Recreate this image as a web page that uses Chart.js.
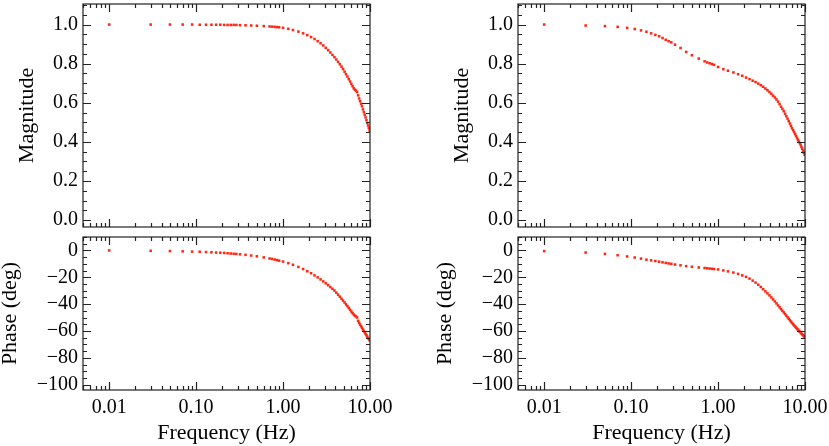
<!DOCTYPE html>
<html>
<head>
<meta charset="utf-8">
<script src="https://cdn.jsdelivr.net/npm/chart.js@4.4.1/dist/chart.umd.min.js"></script>
<style>
  html, body { margin: 0; padding: 0; background: #fff; }
  #wrap { position: relative; width: 829px; height: 446px; overflow: hidden; }
  canvas { position: absolute; }
</style>
</head>
<body>
<div id="wrap">
  <canvas id="magLeftChart" width="414" height="232" style="left:0;top:0"></canvas>
  <canvas id="phaseLeftChart" width="414" height="214" style="left:0;top:232px"></canvas>
  <canvas id="magRightChart" width="415" height="232" style="left:414px;top:0"></canvas>
  <canvas id="phaseRightChart" width="415" height="214" style="left:414px;top:232px"></canvas>
</div>
<script>
// Frequencies shared by all four panels (Hz)
const freq = [0.01, 0.03, 0.05, 0.07, 0.09, 0.11, 0.13, 0.15, 0.17, 0.19, 0.21, 0.23, 0.25, 0.27, 0.29,
  0.32, 0.37, 0.43, 0.5, 0.6, 0.7, 0.75, 0.8, 0.85, 0.9, 1.0, 1.15, 1.3, 1.5, 1.7, 1.9,
  2.1, 2.3, 2.5, 2.7, 2.9, 3.1, 3.3, 3.5, 3.7, 3.9, 4.1, 4.3, 4.5, 4.7, 4.9,
  5.1, 5.3, 5.5, 5.7, 5.9, 6.1, 6.3, 6.5, 6.7, 6.9, 7.1, 7.3, 7.5, 7.7, 7.9,
  8.1, 8.3, 8.5, 8.7, 8.9, 9.1, 9.3, 9.5, 9.7, 9.9];

// Left column
const magLeft = [1.0, 1.0, 1.0, 1.0, 1.0, 0.999, 0.999, 0.999, 0.999, 0.999, 0.998, 0.998, 0.998, 0.998, 0.998,
  0.997, 0.996, 0.995, 0.994, 0.992, 0.990, 0.989, 0.988, 0.987, 0.986, 0.983, 0.978, 0.972, 0.964, 0.955, 0.946,
  0.936, 0.926, 0.915, 0.904, 0.893, 0.881, 0.869, 0.857, 0.845, 0.833, 0.821, 0.809, 0.797, 0.785, 0.772,
  0.759, 0.746, 0.734, 0.721, 0.709, 0.697, 0.685, 0.674, 0.667, 0.662, 0.655, 0.638, 0.622, 0.608, 0.595,
  0.582, 0.566, 0.552, 0.539, 0.525, 0.511, 0.497, 0.484, 0.471, 0.458];
const phaseLeft = [0, -0.3, -0.5, -0.7, -0.9, -1.0, -1.2, -1.4, -1.6, -1.7, -1.9, -2.1, -2.3, -2.5, -2.6,
  -2.9, -3.3, -3.8, -4.4, -5.2, -6.0, -6.4, -6.8, -7.2, -7.6, -8.3, -9.5, -10.7, -12.3, -13.9, -15.5,
  -17.0, -18.6, -20.1, -21.6, -23.1, -24.5, -25.9, -27.3, -28.6, -29.9, -31.5, -33.0, -34.5, -36.0, -37.4,
  -38.8, -40.2, -41.5, -42.9, -44.2, -45.5, -46.7, -47.8, -48.6, -49.2, -50.0, -52.5, -54.0, -55.3, -56.5,
  -57.7, -58.9, -60.0, -61.1, -62.2, -63.2, -64.2, -65.2, -66.1, -67.0];

// Right column
const magRight = [1.0, 0.995, 0.992, 0.988, 0.983, 0.977, 0.970, 0.963, 0.955, 0.947, 0.940, 0.931, 0.922, 0.915, 0.909,
  0.897, 0.880, 0.860, 0.843, 0.826, 0.812, 0.806, 0.802, 0.798, 0.794, 0.783, 0.772, 0.764, 0.755, 0.746, 0.738,
  0.729, 0.721, 0.713, 0.706, 0.698, 0.690, 0.682, 0.673, 0.664, 0.655, 0.646, 0.636, 0.627, 0.617, 0.606,
  0.593, 0.580, 0.569, 0.557, 0.544, 0.531, 0.519, 0.506, 0.494, 0.482, 0.470, 0.460, 0.450, 0.440, 0.430,
  0.420, 0.410, 0.402, 0.394, 0.386, 0.374, 0.365, 0.355, 0.345, 0.335];
const phaseRight = [-0.5, -1.6, -2.6, -3.6, -4.5, -5.3, -6.1, -6.9, -7.4, -7.9, -8.4, -8.9, -9.3, -9.7, -10.0,
  -10.5, -11.1, -11.7, -12.2, -12.7, -13.1, -13.3, -13.5, -13.7, -13.9, -14.2, -14.9, -15.6, -16.5, -17.5, -18.6,
  -19.7, -21.0, -22.5, -24.0, -25.6, -27.2, -28.9, -30.5, -32.0, -33.5, -35.0, -36.5, -38.0, -39.5, -41.0,
  -42.4, -43.8, -45.0, -46.2, -47.4, -48.6, -49.8, -50.9, -52.0, -53.0, -54.0, -55.0, -55.9, -56.7, -57.5,
  -58.3, -59.0, -59.8, -60.5, -61.2, -61.9, -62.6, -63.2, -63.8, -64.4];

// Tick values and labels
const freqTicks = [0.01, 0.1, 1, 10];
const freqTickLabels = ['0.01', '0.10', '1.00', '10.00'];
const magTicks = [0, 0.2, 0.4, 0.6, 0.8, 1.0];
const magMinorStep = 0.05;
const phaseTicks = [0, -20, -40, -60, -80, -100];
const phaseMinorStep = 5;

const pointColor = 'rgb(255, 38, 18)';
const serif = '"Liberation Serif", "Times New Roman", serif';

// IDL-like frame: box with inward ticks on all four sides
const idlFrame = {
    id: 'idlFrame',
    afterDraw(chart) {
        const ctx = chart.ctx;
        const area = chart.chartArea;
        const xs = chart.scales.x;
        const ys = chart.scales.y;
        const minorStep = chart.options.plugins.idlFrame.minorStep;
        ctx.save();
        ctx.strokeStyle = '#222';
        ctx.lineWidth = 1.2;
        ctx.strokeRect(area.left, area.top, area.right - area.left, area.bottom - area.top);

        ctx.beginPath();
        // x ticks (log decades + minors)
        for (let d = 0.001; d <= 10; d *= 10) {
            for (let k = 1; k <= 9; k++) {
                const v = d * k;
                if (v < xs.min || v > xs.max) continue;
                const px = Math.round(xs.getPixelForValue(v)) + 0.5;
                const len = k === 1 ? 8 : 4;
                ctx.moveTo(px, area.bottom); ctx.lineTo(px, area.bottom - len);
                ctx.moveTo(px, area.top); ctx.lineTo(px, area.top + len);
            }
        }
        // y ticks
        const start = Math.ceil(ys.min / minorStep) * minorStep;
        for (let v = start; v <= ys.max + 1e-9; v += minorStep) {
            const py = Math.round(ys.getPixelForValue(v)) + 0.5;
            const n = Math.round(v / minorStep);
            const len = n % 4 === 0 ? 8 : 4;
            ctx.moveTo(area.left, py); ctx.lineTo(area.left + len, py);
            ctx.moveTo(area.right, py); ctx.lineTo(area.right - len, py);
        }
        ctx.stroke();
        ctx.restore();
    }
};

function makePanel(id, ys, opt) {
    const points = freq.map((f, i) => ({ x: f, y: ys[i] }));
    return new Chart(document.getElementById(id), {
        type: 'scatter',
        data: {
            datasets: [{
                data: points,
                pointStyle: 'rect',
                pointRadius: 1.8,
                pointBorderWidth: 0,
                backgroundColor: pointColor,
                borderColor: pointColor
            }]
        },
        options: {
            responsive: false,
            devicePixelRatio: 1,
            animation: false,
            layout: { padding: opt.padding },
            plugins: {
                legend: { display: false },
                tooltip: { enabled: false },
                idlFrame: { minorStep: opt.minorStep }
            },
            scales: {
                x: {
                    type: 'logarithmic',
                    min: 0.005,
                    max: 10,
                    display: opt.showX,
                    grid: { display: false, drawTicks: false },
                    border: { display: false },
                    afterBuildTicks: s => { s.ticks = freqTicks.map(v => ({ value: v })); },
                    afterFit: s => { s.height = opt.xHeight; s.paddingLeft = 0; s.paddingRight = 0; },
                    ticks: {
                        autoSkip: false,
                        maxRotation: 0,
                        padding: 6,
                        color: '#000',
                        font: { family: serif, size: 20 },
                        callback: (v, i) => freqTickLabels[i]
                    },
                    title: {
                        display: true,
                        text: 'Frequency (Hz)',
                        color: '#000',
                        padding: { top: 0, bottom: 0 },
                        font: { family: serif, size: 22 }
                    }
                },
                y: {
                    min: opt.yMin,
                    max: opt.yMax,
                    grid: { display: false, drawTicks: false },
                    border: { display: false },
                    afterBuildTicks: s => { s.ticks = opt.yTicks.map(v => ({ value: v })); },
                    afterFit: s => { s.width = opt.yWidth; s.paddingTop = 0; s.paddingBottom = 0; },
                    ticks: {
                        padding: 5,
                        color: '#000',
                        font: { family: serif, size: 20 },
                        callback: opt.yLabel
                    },
                    title: {
                        display: true,
                        text: opt.yTitle,
                        color: '#000',
                        padding: { top: opt.titlePad, bottom: 0 },
                        font: { family: serif, size: 22 }
                    }
                }
            }
        },
        plugins: [idlFrame]
    });
}

const magLabel = v => v.toFixed(1);
const phaseLabel = v => (v < 0 ? '\u2212' + Math.abs(v) : String(v));

makePanel('magLeftChart', magLeft, {
    padding: { top: 1, right: 44, bottom: 5, left: 0 }, showX: false, xHeight: 0,
    yMin: -0.035, yMax: 1.105, yTicks: magTicks, minorStep: magMinorStep,
    yWidth: 83, yTitle: 'Magnitude', titlePad: 14, yLabel: magLabel
});
makePanel('phaseLeftChart', phaseLeft, {
    padding: { top: 5, right: 44, bottom: 0, left: 0 }, showX: true, xHeight: 56,
    yMin: -104, yMax: 10, yTicks: phaseTicks, minorStep: phaseMinorStep,
    yWidth: 83, yTitle: 'Phase (deg)', titlePad: -3, yLabel: phaseLabel
});
makePanel('magRightChart', magRight, {
    padding: { top: 1, right: 24, bottom: 5, left: 0 }, showX: false, xHeight: 0,
    yMin: -0.035, yMax: 1.105, yTicks: magTicks, minorStep: magMinorStep,
    yWidth: 104, yTitle: 'Magnitude', titlePad: 35, yLabel: magLabel
});
makePanel('phaseRightChart', phaseRight, {
    padding: { top: 5, right: 24, bottom: 0, left: 0 }, showX: true, xHeight: 56,
    yMin: -104, yMax: 10, yTicks: phaseTicks, minorStep: phaseMinorStep,
    yWidth: 104, yTitle: 'Phase (deg)', titlePad: 18, yLabel: phaseLabel
});
</script>
</body>
</html>
